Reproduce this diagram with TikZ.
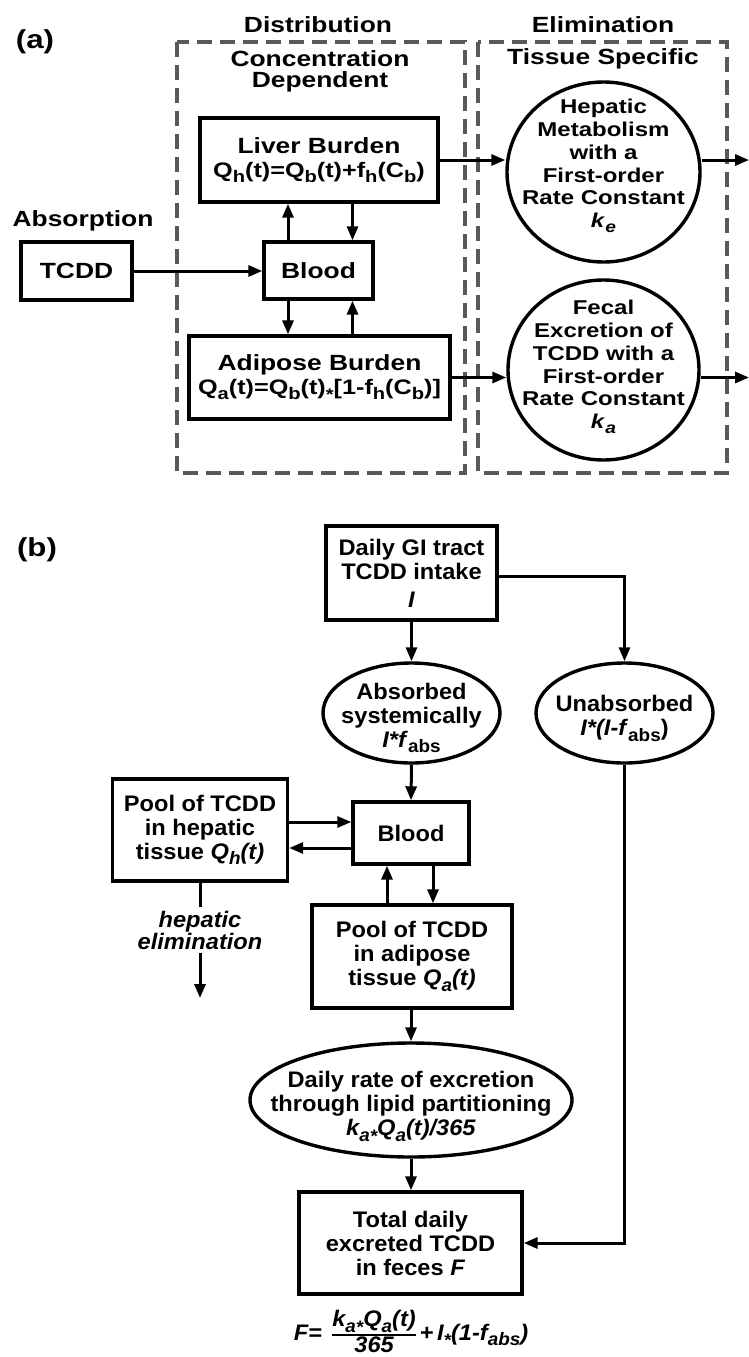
\documentclass[tikz,border=0pt]{standalone}
\usepackage{graphicx}
\usepackage{fontspec}
\setmainfont{Liberation Sans}
\newfontfamily\fa{Liberation Sans}[FakeStretch=1.2]
\newfontfamily\fb{Liberation Sans}[FakeStretch=1.05]
\usetikzlibrary{arrows.meta,shapes.geometric}
\newcommand\dn[1]{\raisebox{-0.25em}{\scalebox{0.8}{#1}}}
\newcommand\mst{\raisebox{-0.3em}{\scalebox{0.8}{*}}}
\begin{document}
\begin{tikzpicture}[x=1pt,y=-1pt,
  box/.style={draw,line width=3.4pt,inner sep=0pt},
  oval/.style={draw,ellipse,line width=3.4pt,inner sep=0pt},
  arr/.style={line width=3pt,-{Triangle[length=14pt,width=11pt]}},
  ln/.style={line width=3pt},
  dsh/.style={draw=black!65,line width=3.4pt,dash pattern=on 15pt off 8pt},
  ta/.style={font=\fa\bfseries\fontsize{22}{24}\selectfont,align=center,inner sep=0pt},
  tc/.style={font=\fa\bfseries\fontsize{20}{22.7}\selectfont,align=center,inner sep=0pt},
  tb/.style={font=\fb\bfseries\fontsize{22.5}{24}\selectfont,align=center,inner sep=0pt},
]
\useasboundingbox (0,0) rectangle (749,1357);

% ---------------- (a) ----------------
\node[ta] (lblA) at (35,42) {\fontsize{26}{26}\selectfont (a)};
\draw[dsh] (177,42) rectangle (465,473);
\draw[dsh] (478,42) rectangle (727,473);
\node[ta,anchor=base] (hdist) at (318,32) {Distribution};
\node[ta,anchor=base] (helimA) at (603,32) {Elimination};
\node[ta,anchor=base] (hconc1) at (320,66) {Concentration};
\node[ta,anchor=base] (hconc2) at (320,87) {Dependent};
\node[ta,anchor=base] (htis) at (603,64) {Tissue Specific};
\node[ta,anchor=base] (habs) at (83,226) {Absorption};

\node[box,ta,minimum width=111pt,minimum height=58pt] (tcdd) at (76.5,271) {TCDD};
\node[box,ta,minimum width=109pt,minimum height=57pt] (blooda) at (318.5,270.5) {Blood};
\node[box,ta,minimum width=238pt,minimum height=84pt] (liver) at (319,160)
  {Liver Burden\\{\fontsize{21}{24}\selectfont Q\dn{h}(t)=Q\dn{b}(t)+f\dn{h}(C\dn{b})}};
\node[box,ta,minimum width=261pt,minimum height=83pt] (adip) at (319.5,377.5)
  {Adipose Burden\\{\fontsize{21}{24}\selectfont Q\dn{a}(t)=Q\dn{b}(t)\mst[1-f\dn{h}(C\dn{b})]}};

\node[oval,minimum width=193pt,minimum height=180pt] (hepc) at (603.5,172) {};
\node[tc] (hept) at (603.5,166) {Hepatic\\Metabolism\\with a\\First-order\\Rate Constant\\\textit{k}\dn{\textit{e}}};
\node[oval,minimum width=191pt,minimum height=180pt] (fecc) at (603.5,370) {};
\node[tc] (fect) at (603.5,367) {Fecal\\Excretion of\\TCDD with a\\First-order\\Rate Constant\\\textit{k}\dn{\textit{a}}};

\coordinate (ax1) at (288,0);
\coordinate (ax2) at (352.5,0);
\coordinate (outa) at (749,160);
\coordinate (outb) at (749,377.5);
\draw[arr] (tcdd.east) -- (tcdd.east -| blooda.west);
\draw[arr] (blooda.north -| ax1) -- (liver.south -| ax1);
\draw[arr] (liver.south -| ax2) -- (blooda.north -| ax2);
\draw[arr] (blooda.south -| ax1) -- (adip.north -| ax1);
\draw[arr] (adip.north -| ax2) -- (blooda.south -| ax2);
\draw[arr] (liver.east) -- (liver.east -| hepc.west);
\draw[arr] (liver.east -| hepc.east) -- (outa);
\draw[arr] (adip.east) -- (adip.east -| fecc.west);
\draw[arr] (adip.east -| fecc.east) -- (outb);

% ---------------- (b) ----------------
\node[ta] (lblB) at (37,550) {\fontsize{26}{26}\selectfont (b)};
\node[box,tb,minimum width=171pt,minimum height=94pt] (daily) at (411.5,573)
  {Daily GI tract\\TCDD intake\\[4pt]\textit{I}};
\node[oval,minimum width=177pt,minimum height=100pt] (absb) at (411.5,713) {};
\node[tb] (abst) at (411.5,718) {Absorbed\\systemically\\\textit{I*f}\dn{abs}};
\node[oval,minimum width=177pt,minimum height=100pt] (unab) at (624.5,713) {};
\node[tb] (unat) at (624.5,718.5) {Unabsorbed\\\textit{I*(I-f}\dn{abs})};
\node[box,tb,minimum width=116pt,minimum height=62pt] (bloodb) at (411,833) {Blood};
\node[box,tb,minimum width=175pt,minimum height=102pt] (hepp) at (200,830)
  {Pool of TCDD\\in hepatic\\tissue \textit{Q\dn{h}(t)}};
\node[box,tb,minimum width=200pt,minimum height=103pt] (adpp) at (412,956.5)
  {Pool of TCDD\\in adipose\\tissue \textit{Q\dn{a}(t)}};
\node[tb,inner sep=4pt,font=\fb\bfseries\itshape\fontsize{22.5}{20}\selectfont] (helim) at (200,930) {hepatic\\elimination};
\node[oval,minimum width=322pt,minimum height=114pt] (rate) at (411,1100) {};
\node[tb] (ratet) at (411,1107) {Daily rate of excretion\\through lipid partitioning\\\textit{k\dn{a}\mst Q\dn{a}(t)/365}};
\node[box,tb,minimum width=223pt,minimum height=102pt] (total) at (410.5,1243)
  {Total daily\\excreted TCDD\\in feces \textit{F}};
\node[font=\fb\bfseries\itshape\fontsize{22.5}{24}\selectfont,anchor=base,inner sep=0pt] (form) at (411,1340)
  {\setlength\arrayrulewidth{2.2pt}F=\, \begin{tabular}{@{}c@{}}k\dn{a}\mst Q\dn{a}(t)\\\hline 365\end{tabular}\,+\,I\mst(1-f\dn{abs})};

\coordinate (by1) at (0,822);
\coordinate (by2) at (0,848);
\coordinate (bx1) at (387,0);
\coordinate (bx2) at (433,0);
\coordinate (hend) at (200,998);
\draw[arr] (daily.south) -- (absb.north);
\draw[arr] ([yshift=-3pt]daily.east) -| (unab.north);
\draw[arr] (absb.south) -- (bloodb.north);
\draw[arr] (hepp.east |- by1) -- (bloodb.west |- by1);
\draw[arr] (bloodb.west |- by2) -- (hepp.east |- by2);
\draw[arr] (adpp.north -| bx1) -- (bloodb.south -| bx1);
\draw[arr] (bloodb.south -| bx2) -- (adpp.north -| bx2);
\draw[ln] (hepp.south) -- (helim.north);
\draw[arr] (helim.south) -- (hend);
\draw[arr] (adpp.south -| rate.north) -- (rate.north);
\draw[arr] (rate.south) -- (total.north -| rate.south);
\draw[arr] (unab.south) |- (total.east);
\end{tikzpicture}
\end{document}
